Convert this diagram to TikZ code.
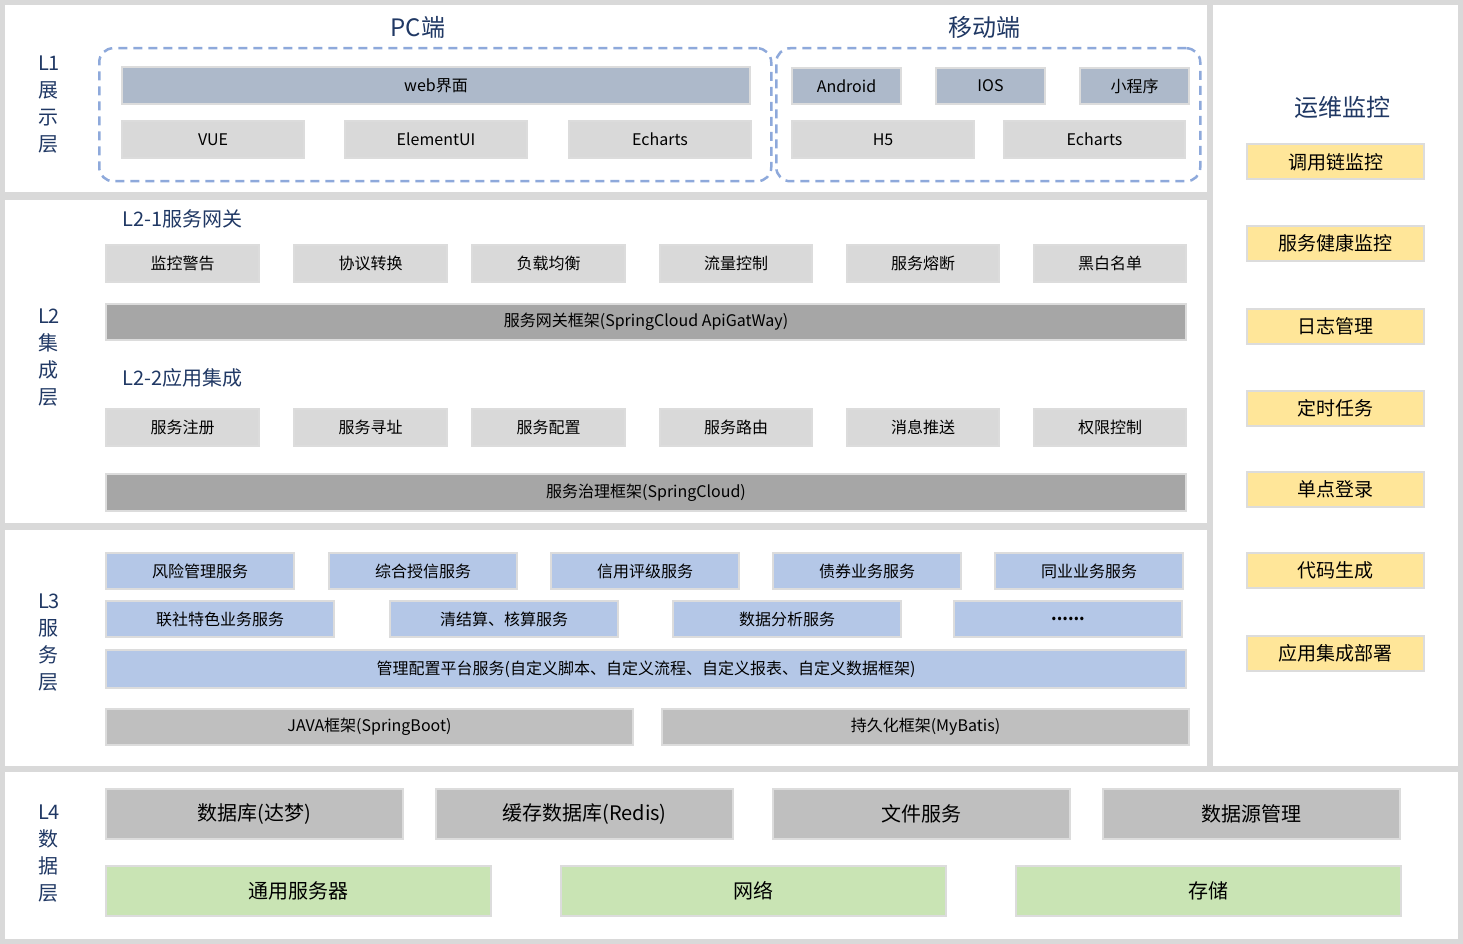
\documentclass[tikz,border=0pt]{standalone}
\usepackage{fontspec}
\setmainfont{Noto Sans CJK SC}
\begin{document}
\begin{tikzpicture}[x=1pt,y=-1pt,
  bx/.style={draw=lineg,line width=2pt,inner sep=0pt,anchor=north west,font=\fontsize{16}{18}\selectfont},
  lay/.style={text=dkblue,font=\fontsize{20}{27}\selectfont,align=center},
  dashbox/.style={draw=dashb,line width=2.5pt,dash pattern=on 9pt off 6pt,rounded corners=14pt,anchor=north west}]
\definecolor{bgg}{HTML}{D9D9D9}
\definecolor{lineg}{HTML}{DCDCDC}
\definecolor{dkblue}{HTML}{203864}
\definecolor{dashb}{HTML}{8EA9DB}
\definecolor{webb}{HTML}{ADB9CA}
\definecolor{lg}{HTML}{D9D9D9}
\definecolor{mg}{HTML}{A6A6A6}
\definecolor{g2}{HTML}{BFBFBF}
\definecolor{bl}{HTML}{B4C7E7}
\definecolor{ye}{HTML}{FFE699}
\definecolor{gr}{HTML}{C9E4B4}
\fill[bgg] (0,0) rectangle (1463,944);
\useasboundingbox (0,0) rectangle (1463,944);
\fill[white] (5,5) rectangle (1207,192);
\fill[white] (5,200) rectangle (1207,523);
\fill[white] (5,530) rectangle (1207,766);
\fill[white] (1213,5) rectangle (1458,766);
\fill[white] (5,772) rectangle (1458,939);
% L1
\node[dashbox,minimum width=672,minimum height=133] (pc) at (98,47) {};
\node[dashbox,minimum width=424,minimum height=133] (mob) at (775,47) {};
\node[text=dkblue,font=\fontsize{24}{24}\selectfont] (pct) at (418,27) {PC端};
\node[text=dkblue,font=\fontsize{24}{24}\selectfont] (mbt) at (984,27) {移动端};
\node[lay] (l1) at (49,105) {L1\\展\\示\\层};
\node[bx,fill=webb,minimum width=628,minimum height=37] (web) at (121,66) {}; \node at (web.center) {\fontsize{16}{16}\selectfont web界面};
\node[bx,fill=lg,minimum width=182,minimum height=37] (vue) at (121,120) {}; \node at (vue.center) {\fontsize{16}{16}\selectfont VUE};
\node[bx,fill=lg,minimum width=182,minimum height=37] (eui) at (344,120) {}; \node at (eui.center) {\fontsize{16}{16}\selectfont ElementUI};
\node[bx,fill=lg,minimum width=182,minimum height=37] (ech) at (568,120) {}; \node at (ech.center) {\fontsize{16}{16}\selectfont Echarts};
\node[bx,fill=webb,minimum width=109,minimum height=36] (and) at (791,67) {}; \node at (and.center) {\fontsize{16}{16}\selectfont Android};
\node[bx,fill=webb,minimum width=109,minimum height=36] (ios) at (935,67) {}; \node at (ios.center) {\fontsize{16}{16}\selectfont IOS};
\node[bx,fill=webb,minimum width=109,minimum height=36] (mini) at (1079,67) {}; \node at (mini.center) {\fontsize{16}{16}\selectfont 小程序};
\node[bx,fill=lg,minimum width=182,minimum height=37] (h5) at (791,120) {}; \node at (h5.center) {\fontsize{16}{16}\selectfont H5};
\node[bx,fill=lg,minimum width=181,minimum height=37] (ech2) at (1003,120) {}; \node at (ech2.center) {\fontsize{16}{16}\selectfont Echarts};
% L2
\node[lay] (l2) at (49,358) {L2\\集\\成\\层};
\node[text=dkblue,font=\fontsize{20}{20}\selectfont,anchor=west] (l21) at (119,219) {L2-1服务网关};
\node[text=dkblue,font=\fontsize{20}{20}\selectfont,anchor=west] (l22) at (119,378) {L2-2应用集成};
\foreach \x/\w/\t [count=\i] in {105/153/监控警告,293/153/协议转换,471/153/负载均衡,659/152/流量控制,846/152/服务熔断,1033/152/黑白名单}{
  \node[bx,fill=lg,minimum width=\w,minimum height=37] (ga\i) at (\x,244) {};
  \node at (ga\i.center) {\fontsize{16}{16}\selectfont \t};}
\node[bx,fill=mg,minimum width=1080,minimum height=36] (gw) at (105,303) {}; \node at (gw.center) {\fontsize{16}{16}\selectfont 服务网关框架(SpringCloud ApiGatWay)};
\foreach \x/\w/\t [count=\i] in {105/153/服务注册,293/153/服务寻址,471/153/服务配置,659/152/服务路由,846/152/消息推送,1033/152/权限控制}{
  \node[bx,fill=lg,minimum width=\w,minimum height=37] (ai\i) at (\x,408) {};
  \node at (ai\i.center) {\fontsize{16}{16}\selectfont \t};}
\node[bx,fill=mg,minimum width=1080,minimum height=37] (sg) at (105,473) {}; \node at (sg.center) {\fontsize{16}{16}\selectfont 服务治理框架(SpringCloud)};
% L3
\node[lay] (l3) at (49,643) {L3\\服\\务\\层};
\foreach \x/\t [count=\i] in {105/风险管理服务,328/综合授信服务,550/信用评级服务,772/债券业务服务,994/同业业务服务}{
  \node[bx,fill=bl,minimum width=188,minimum height=36] (s\i) at (\x,552) {};
  \node at (s\i.center) {\fontsize{16}{16}\selectfont \t};}
\foreach \x/\t [count=\i] in {105/联社特色业务服务,389/清结算、核算服务,672/数据分析服务,953/\textbf{......}}{
  \node[bx,fill=bl,minimum width=228,minimum height=36] (r\i) at (\x,600) {};
  \node at (r\i.center) {\fontsize{16}{16}\selectfont \t};}
\node[bx,fill=bl,minimum width=1080,minimum height=38] (mc) at (105,649) {}; \node at (mc.center) {\fontsize{16}{16}\selectfont 管理配置平台服务(自定义脚本、自定义流程、自定义报表、自定义数据框架)};
\node[bx,fill=g2,minimum width=527,minimum height=36] (jv) at (105,708) {}; \node at (jv.center) {\fontsize{16}{16}\selectfont JAVA框架(SpringBoot)};
\node[bx,fill=g2,minimum width=527,minimum height=36] (mb) at (661,708) {}; \node at (mb.center) {\fontsize{16}{16}\selectfont 持久化框架(MyBatis)};
% right
\node[text=dkblue,font=\fontsize{24}{24}\selectfont] (ops) at (1342,107) {运维监控};
\foreach \y/\t [count=\i] in {162/调用链监控,243/服务健康监控,326/日志管理,408/定时任务,489/单点登录,570/代码生成,653/应用集成部署}{
  \node[draw=lineg,line width=2pt,fill=ye,minimum width=177,minimum height=35,inner sep=0pt] (o\i) at (1335.5,\y) {};
  \node at (o\i.center) {\fontsize{19}{19}\selectfont \t};}
% L4
\node[lay] (l4) at (49,854) {L4\\数\\据\\层};
\foreach \x/\t [count=\i] in {105/数据库(达梦),435/缓存数据库(Redis),772/文件服务,1102/数据源管理}{
  \node[bx,fill=g2,minimum width=297,minimum height=50] (d\i) at (\x,788) {};
  \node at (d\i.center) {\fontsize{20}{20}\selectfont \t};}
\foreach \x/\t [count=\i] in {105/通用服务器,560/网络,1015/存储}{
  \node[bx,fill=gr,minimum width=385,minimum height=50] (h\i) at (\x,865) {};
  \node at (h\i.center) {\fontsize{20}{20}\selectfont \t};}
\end{tikzpicture}
\end{document}
